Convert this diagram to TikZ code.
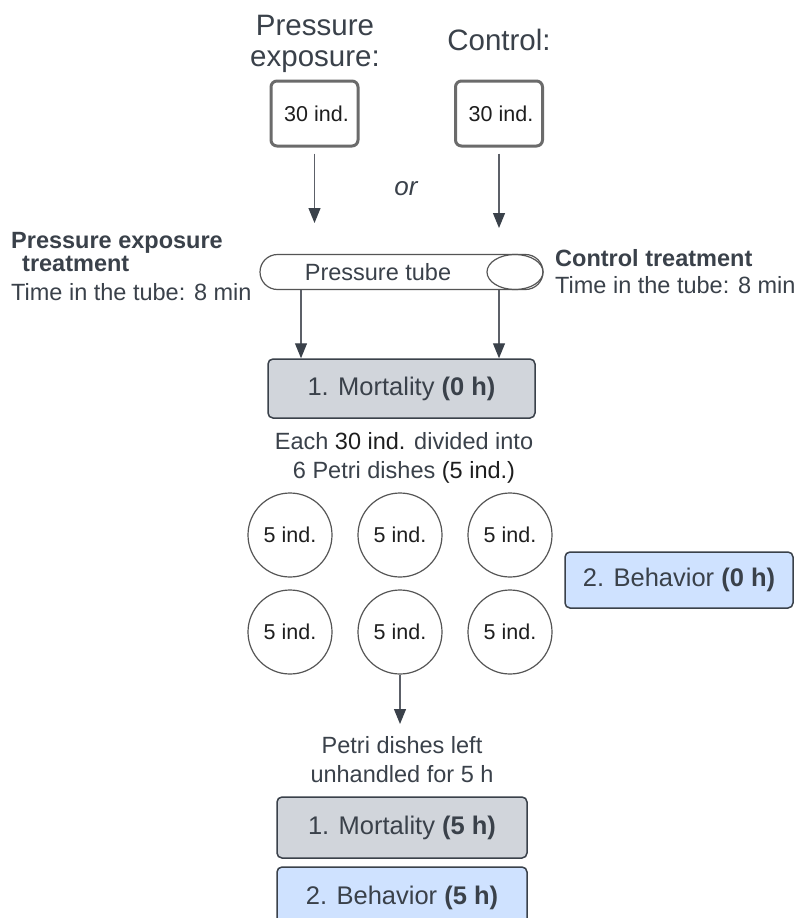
\documentclass[tikz,border=0pt]{standalone}
\usepackage{fontspec}
\setmainfont{Liberation Sans}
\usetikzlibrary{arrows.meta,shapes.geometric}
\definecolor{dark}{HTML}{3A414A}
\definecolor{blk}{HTML}{1E1E1E}
\definecolor{boxline}{HTML}{6B6B6B}
\definecolor{linec}{HTML}{5C6068}
\definecolor{shapeline}{HTML}{555555}
\definecolor{grayfill}{HTML}{D1D5DB}
\definecolor{bluefill}{HTML}{CFE2FF}
\newcommand{\fsz}[1]{\fontsize{#1}{#1}\selectfont}
\begin{document}
\begin{tikzpicture}[x=1pt,y=-1pt,
  lbl/.style={inner sep=0, text=dark, font=\fsz{23.5}},
  title/.style={inner sep=0, text=dark, font=\fsz{29.5}},
  indbox/.style={draw=boxline, line width=3pt, rounded corners=6pt, fill=white,
    minimum width=87pt, minimum height=65pt, inner sep=0, text=blk, font=\fsz{21.5}},
  mortbox/.style={draw=dark, line width=1.5pt, rounded corners=5pt, fill=grayfill,
    inner sep=0, text=dark, font=\fsz{25.5}},
  behbox/.style={draw=dark, line width=1.5pt, rounded corners=5pt, fill=bluefill,
    inner sep=0, text=dark, font=\fsz{25.5}},
  dish/.style={circle, draw=shapeline, line width=1.2pt, minimum size=84pt,
    inner sep=0, text=blk, font=\fsz{21.5}},
  conn/.style={draw=linec, line width=1.2pt,
    -{Triangle[length=15pt,width=12pt,color=dark]}}
]
\useasboundingbox (0,0) rectangle (803,918);
\fill[white] (0,0) rectangle (803,918);

% titles
\node[title, anchor=base] (t1) at (315,35) {Pressure};
\node[title, anchor=base] (t2) at (315,66) {exposure:};
\node[title, anchor=base] (t3) at (499,50) {Control:};

% 30 ind. boxes
\node[indbox] (b1) at (314.5,113.5) {\hspace*{4pt}30 ind.};
\node[indbox] (b2) at (499,113.5) {\hspace*{4pt}30 ind.};

\node[inner sep=0, text=dark, font=\fsz{26}\itshape, anchor=base] (or) at (406,195) {or};

\coordinate (a1e) at (314.5,223);
\coordinate (a2e) at (499,228);
\draw[conn, shorten <=6pt] (b1.south) -- (a1e);
\draw[conn, shorten <=6pt] (b2.south) -- (a2e);

% side labels
\node[lbl, font=\fsz{23.5}\bfseries, anchor=base west] (l1) at (11,248) {Pressure exposure};
\node[lbl, font=\fsz{23.5}\bfseries, anchor=base west] (l2) at (22,271) {treatment};
\node[lbl, anchor=base west] (l3) at (11,300) {Time in the tube: 8 min};
\node[lbl, font=\fsz{23.5}\bfseries, anchor=base west] (r1) at (555,266) {Control treatment};
\node[lbl, anchor=base west] (r2) at (555,293) {Time in the tube: 8 min};

% tube
\node[draw=shapeline, line width=1.2pt, rounded corners=17.5pt, minimum width=283pt,
  minimum height=35pt, inner sep=0, fill=white] (tube) at (401.5,272) {};
\node[ellipse, draw=shapeline, line width=1.2pt, minimum width=56pt, minimum height=35pt,
  inner sep=0] (tubeend) at (515,272) {};
\node[lbl, anchor=base] (tubetxt) at (378,280) {Pressure tube};

% mortality 0 h
\node[mortbox, minimum width=267pt, minimum height=59pt] (m0) at (401.5,388.5)
  {1. Mortality \textbf{(0 h)}};

\coordinate (xl) at (301,0);
\coordinate (xr) at (499,0);
\draw[conn] (tube.south -| xl) -- (m0.north -| xl);
\draw[conn] (tube.south -| xr) -- (m0.north -| xr);

% division text
\node[lbl, anchor=base] (d1) at (404,449) {Each \textcolor{blk}{30 ind.} divided into};
\node[lbl, anchor=base] (d2) at (404,478) {6 Petri dishes \textcolor{blk}{(5 ind.)}};

% petri dishes
\node[dish] (c1) at (290,535) {5 ind.};
\node[dish] (c2) at (400,535) {5 ind.};
\node[dish] (c3) at (510,535) {5 ind.};
\node[dish] (c4) at (290,632) {5 ind.};
\node[dish] (c5) at (400,632) {5 ind.};
\node[dish] (c6) at (510,632) {5 ind.};

% behavior 0 h
\node[behbox, minimum width=228pt, minimum height=56pt] (bh0) at (679,580)
  {2. Behavior \textbf{(0 h)}};

% arrow down
\coordinate (a3e) at (400,724);
\draw[conn] (c5.south) -- (a3e);

\node[lbl, anchor=base] (p1) at (402,753) {Petri dishes left};
\node[lbl, anchor=base] (p2) at (402,782) {unhandled for 5 h};

% 5 h boxes
\node[mortbox, minimum width=250pt, minimum height=61pt] (m5) at (402,827.5)
  {1. Mortality \textbf{(5 h)}};
\node[behbox, minimum width=250pt, minimum height=61pt] (bh5) at (402,897.5)
  {2. Behavior \textbf{(5 h)}};
\end{tikzpicture}
\end{document}
